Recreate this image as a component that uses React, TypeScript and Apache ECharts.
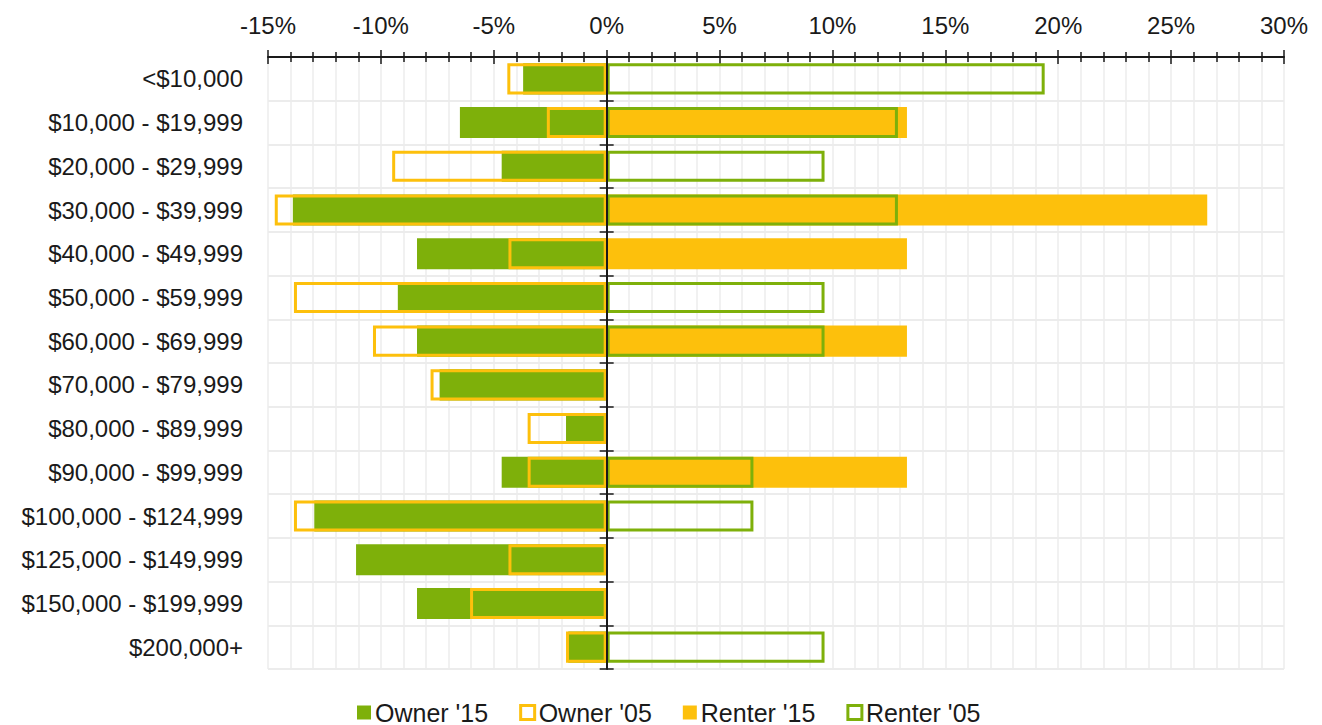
import React, { useEffect, useRef } from "react";
import * as echarts from "echarts";

const categories = [
  "<$10,000",
  "$10,000 - $19,999",
  "$20,000 - $29,999",
  "$30,000 - $39,999",
  "$40,000 - $49,999",
  "$50,000 - $59,999",
  "$60,000 - $69,999",
  "$70,000 - $79,999",
  "$80,000 - $89,999",
  "$90,000 - $99,999",
  "$100,000 - $124,999",
  "$125,000 - $149,999",
  "$150,000 - $199,999",
  "$200,000+",
];

const owner15 = [-3.7, -6.5, -4.65, -13.9, -8.4, -9.25, -8.4, -7.4, -1.8, -4.65, -12.95, -11.1, -8.4, -1.7];
const owner05 = [-4.4, -2.65, -9.5, -14.7, -4.35, -13.85, -10.35, -7.8, -3.5, -3.5, -13.85, -4.35, -6.05, -1.8];
const renter15 = [null, 13.3, null, 26.6, 13.3, null, 13.3, null, null, 13.3, null, null, null, null];
const renter05 = [19.4, 12.9, 9.65, 12.9, null, 9.65, 9.65, null, null, 6.5, 6.5, null, null, 9.65];

const xMin = -15;
const xMax = 30;
const xStep = 5;

const GREEN = "#7eb00a";
const YELLOW = "#fdc00c";
const FONT = "'Liberation Sans', Arial, sans-serif";
const GRID_COLOR = "#ececec";

export default function App() {
  const ref = useRef<HTMLDivElement>(null);

  useEffect(() => {
    if (!ref.current) return;
    const chart = echarts.init(ref.current, null, { renderer: "svg" });

    const baseX = {
      type: "value",
      position: "top",
      min: xMin,
      max: xMax,
      interval: xStep,
    };

    const baseY = {
      type: "category",
      data: categories,
      inverse: true,
    };

    chart.setOption({
      animation: false,
      textStyle: { fontFamily: FONT },
      grid: { left: 268, right: 38, top: 57, bottom: 56, containLabel: false },
      xAxis: [
        {
          ...baseX,
          axisLine: { show: true, onZero: false, lineStyle: { color: "#1a1a1a", width: 2 } },
          axisTick: { show: true, inside: false, length: 7, lineStyle: { color: "#1a1a1a", width: 1.5 } },
          minorTick: { show: true, splitNumber: 5, length: 5, lineStyle: { color: "#1a1a1a", width: 1.5 } },
          axisLabel: {
            show: true,
            formatter: "{value}%",
            fontSize: 24,
            color: "#1a1a1a",
            margin: 20,
            fontFamily: FONT,
          },
          splitLine: { show: true, lineStyle: { color: GRID_COLOR, width: 1.5 } },
          minorSplitLine: { show: true, lineStyle: { color: GRID_COLOR, width: 1.5 } },
        },
        {
          ...baseX,
          axisLine: { show: false, onZero: false },
          axisTick: { show: true, inside: true, length: 7, lineStyle: { color: "#1a1a1a", width: 1.5 } },
          minorTick: { show: true, splitNumber: 5, length: 5, lineStyle: { color: "#1a1a1a", width: 1.5 } },
          axisLabel: { show: false },
          splitLine: { show: false },
        },
      ],
      yAxis: [
        {
          ...baseY,
          position: "left",
          axisLine: { show: false, onZero: false },
          axisTick: { show: false },
          axisLabel: {
            show: true,
            fontSize: 24,
            color: "#1a1a1a",
            margin: 25,
            fontFamily: FONT,
          },
          splitLine: { show: true, lineStyle: { color: GRID_COLOR, width: 2 } },
        },
        {
          ...baseY,
          position: "left",
          z: 10,
          axisLine: { show: true, onZero: true, lineStyle: { color: "#1a1a1a", width: 2 } },
          axisTick: { show: true, inside: false, length: 7, lineStyle: { color: "#1a1a1a", width: 1.5 } },
          axisLabel: { show: false },
          splitLine: { show: false },
        },
        {
          ...baseY,
          position: "left",
          z: 10,
          axisLine: { show: false, onZero: true },
          axisTick: { show: true, inside: true, length: 7, lineStyle: { color: "#1a1a1a", width: 1.5 } },
          axisLabel: { show: false },
          splitLine: { show: false },
        },
      ],
      legend: {
        top: 700,
        left: 357,
        padding: 0,
        icon: "rect",
        itemWidth: 14,
        itemHeight: 14,
        itemGap: 31,
        textStyle: { fontSize: 25, color: "#1a1a1a", fontFamily: FONT, padding: [0, 0, 0, -1] },
        data: [
          { name: "Owner '15", itemStyle: { color: GREEN } },
          { name: "Owner '05", itemStyle: { color: "#fff", borderColor: YELLOW, borderWidth: 3 } },
          { name: "Renter '15", itemStyle: { color: YELLOW } },
          { name: "Renter '05", itemStyle: { color: "#fff", borderColor: GREEN, borderWidth: 3 } },
        ],
      },
      series: [
        {
          name: "Owner '15",
          type: "bar",
          data: owner15,
          barCategoryGap: "29%",
          barGap: "-100%",
          itemStyle: { color: GREEN },
        },
        {
          name: "Owner '05",
          type: "bar",
          data: owner05,
          barCategoryGap: "29%",
          barGap: "-100%",
          itemStyle: { color: "rgba(0,0,0,0)", borderColor: YELLOW, borderWidth: 3 },
        },
        {
          name: "Renter '15",
          type: "bar",
          data: renter15,
          barCategoryGap: "29%",
          barGap: "-100%",
          itemStyle: { color: YELLOW },
        },
        {
          name: "Renter '05",
          type: "bar",
          data: renter05,
          barCategoryGap: "29%",
          barGap: "-100%",
          itemStyle: { color: "rgba(0,0,0,0)", borderColor: GREEN, borderWidth: 3 },
        },
      ],
    });

    return () => chart.dispose();
  }, []);

  return (
    <div
      ref={ref}
      style={{ position: "fixed", left: 0, top: 0, width: 1322, height: 725, background: "#fff" }}
    />
  );
}
